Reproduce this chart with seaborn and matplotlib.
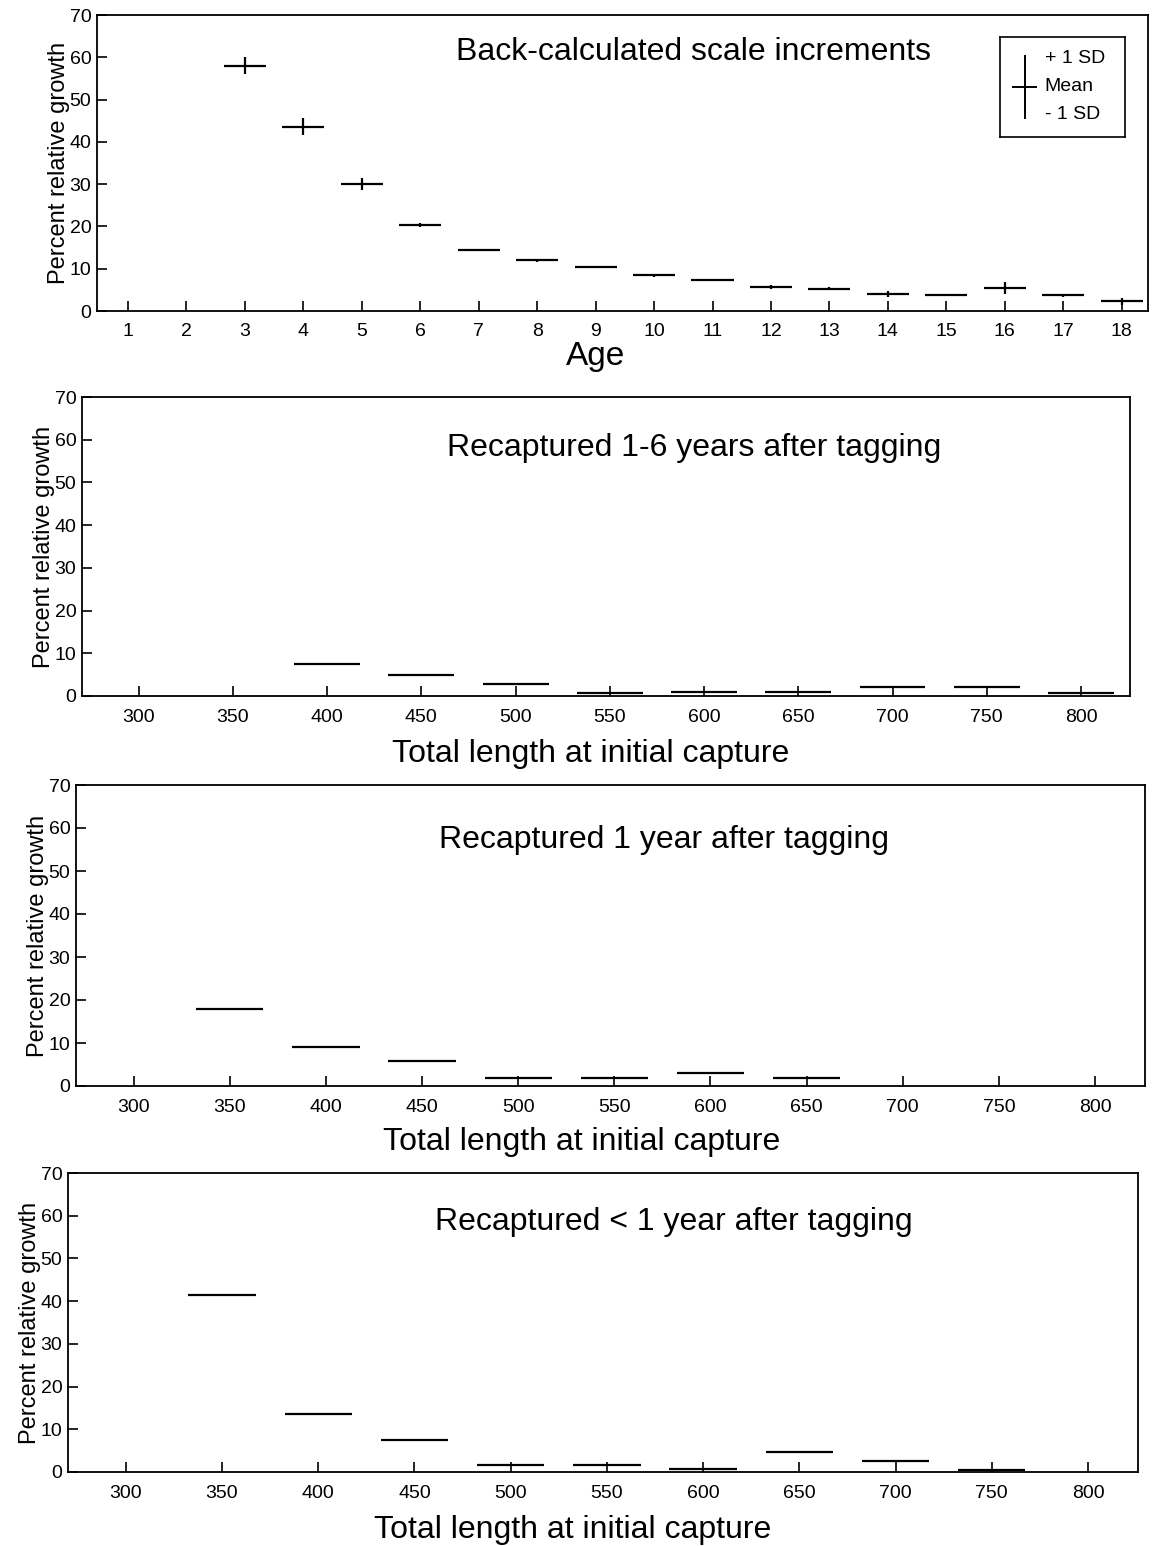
import numpy as np
import pandas as pd
import matplotlib
matplotlib.use("Agg")
import matplotlib.pyplot as plt
import seaborn as sns

# ---------------- data ----------------
ages = [3, 4, 5, 6, 7, 8, 9, 10, 11, 12, 13, 14, 15, 16, 17, 18]
scale_mean = [58.0, 43.6, 30.0, 20.3, 14.4, 12.0, 10.4, 8.4, 7.3, 5.7, 5.3, 4.0, 3.8, 5.5, 3.7, 2.3]
scale_sd = [2.0, 2.0, 1.4, 0.4, 0.3, 0.3, 0.3, 0.3, 0.3, 0.4, 0.4, 0.8, 0.3, 1.4, 0.3, 0.8]
age_ticks = list(range(1, 19))

len_ticks = [300, 350, 400, 450, 500, 550, 600, 650, 700, 750, 800]

rec16_len = [400, 450, 500, 550, 600, 650, 700, 750, 800]
rec16_mean = [7.6, 4.8, 2.7, 0.8, 0.9, 1.0, 2.2, 2.1, 0.7]

rec1_len = [350, 400, 450, 500, 550, 600, 650]
rec1_mean = [18.0, 9.0, 5.8, 1.8, 1.9, 3.0, 1.8]

reclt1_len = [350, 400, 450, 500, 550, 600, 650, 700, 750]
reclt1_mean = [41.5, 13.6, 7.4, 1.7, 1.7, 0.8, 4.7, 2.5, 0.4]

titles = ["Back-calculated scale increments",
          "Recaptured 1-6 years after tagging",
          "Recaptured 1 year after tagging",
          "Recaptured < 1 year after tagging"]
ylabel = "Percent relative growth"
xlabels = ["Age", "Total length at initial capture",
           "Total length at initial capture", "Total length at initial capture"]
y_ticks = [0, 10, 20, 30, 40, 50, 60, 70]
legend_texts = ["+ 1 SD", "Mean", "- 1 SD"]

# ---------------- style ----------------
sns.set_theme(style="ticks")
plt.rcParams['font.family'] = ['Liberation Sans', 'DejaVu Sans']
plt.rcParams['axes.edgecolor'] = 'black'
plt.rcParams['axes.linewidth'] = 1.3
plt.rcParams['text.color'] = 'black'
plt.rcParams['axes.labelcolor'] = 'black'

fig = plt.figure(figsize=(11.62, 15.46), dpi=100)

W, H = 1162, 1546
def box(l, r, t, b):
    return [l / W, 1 - b / H, (r - l) / W, (b - t) / H]

rects = [box(97, 1148, 15, 311), box(82, 1130, 397, 696),
         box(76, 1145, 785, 1086), box(68, 1138, 1173, 1472)]
axes = [fig.add_axes(r) for r in rects]

def style_axis(ax, xt, xlim, title, tx, ty):
    ax.set_ylim(0, 70)
    ax.set_yticks(y_ticks)
    ax.set_xlim(*xlim)
    ax.set_xticks(xt)
    ax.tick_params(axis='both', direction='in', length=7, width=1.2,
                   colors='black', labelsize=14)
    ax.tick_params(axis='x', pad=9)
    ax.tick_params(axis='y', pad=4)
    ax.set_ylabel(ylabel, fontsize=17, labelpad=0)
    for s in ax.spines.values():
        s.set_visible(True)
        s.set_color('black')
    ax.text(tx, ty, title, transform=ax.transAxes, ha='center',
            va='center', fontsize=23, color='black')

# Panel 1
ax = axes[0]
df1 = pd.DataFrame({"age": ages, "mean": scale_mean, "sd": scale_sd})
ax.errorbar(df1["age"], df1["mean"], xerr=0.36, yerr=df1["sd"], fmt='none',
            ecolor='black', elinewidth=1.6, capsize=0)
style_axis(ax, age_ticks, (0.47, 18.45), titles[0], 0.568, 0.875)
ax.set_xlabel(xlabels[0], fontsize=24, labelpad=0)
ax.xaxis.label.set_x(0.474)

# legend box
lg = ax.inset_axes([0.859, 0.588, 0.119, 0.338])
lg.set_xticks([]); lg.set_yticks([])
lg.set_xlim(0, 1); lg.set_ylim(0, 1)
for s in lg.spines.values():
    s.set_color('black'); s.set_linewidth(1.2)
lg.errorbar([0.2], [0.5], xerr=[0.1], yerr=[0.32], fmt='none', ecolor='black',
            elinewidth=1.4, capsize=0)
for yy, t in zip([0.78, 0.5, 0.22], legend_texts):
    lg.text(0.36, yy, t, fontsize=14, va='center', ha='left', color='black')

# Panels 2-4
datasets = [(rec16_len, rec16_mean), (rec1_len, rec1_mean), (reclt1_len, reclt1_mean)]
title_pos = [(0.584, 0.83), (0.55, 0.817), (0.566, 0.836)]
label_x = [0.485, 0.473, 0.472]
label_pad = [10, 8, 10]
for i, (xs, ms) in enumerate(datasets):
    ax = axes[i + 1]
    d = pd.DataFrame({"len": xs, "mean": ms})
    ax.errorbar(d["len"], d["mean"], xerr=17.5, fmt='none',
                ecolor='black', elinewidth=1.6, capsize=0)
    style_axis(ax, len_ticks, (270, 826), titles[i + 1], *title_pos[i])
    ax.set_xlabel(xlabels[i + 1], fontsize=23, labelpad=label_pad[i])
    ax.xaxis.label.set_x(label_x[i])

fig.savefig("out.png", dpi=100)
